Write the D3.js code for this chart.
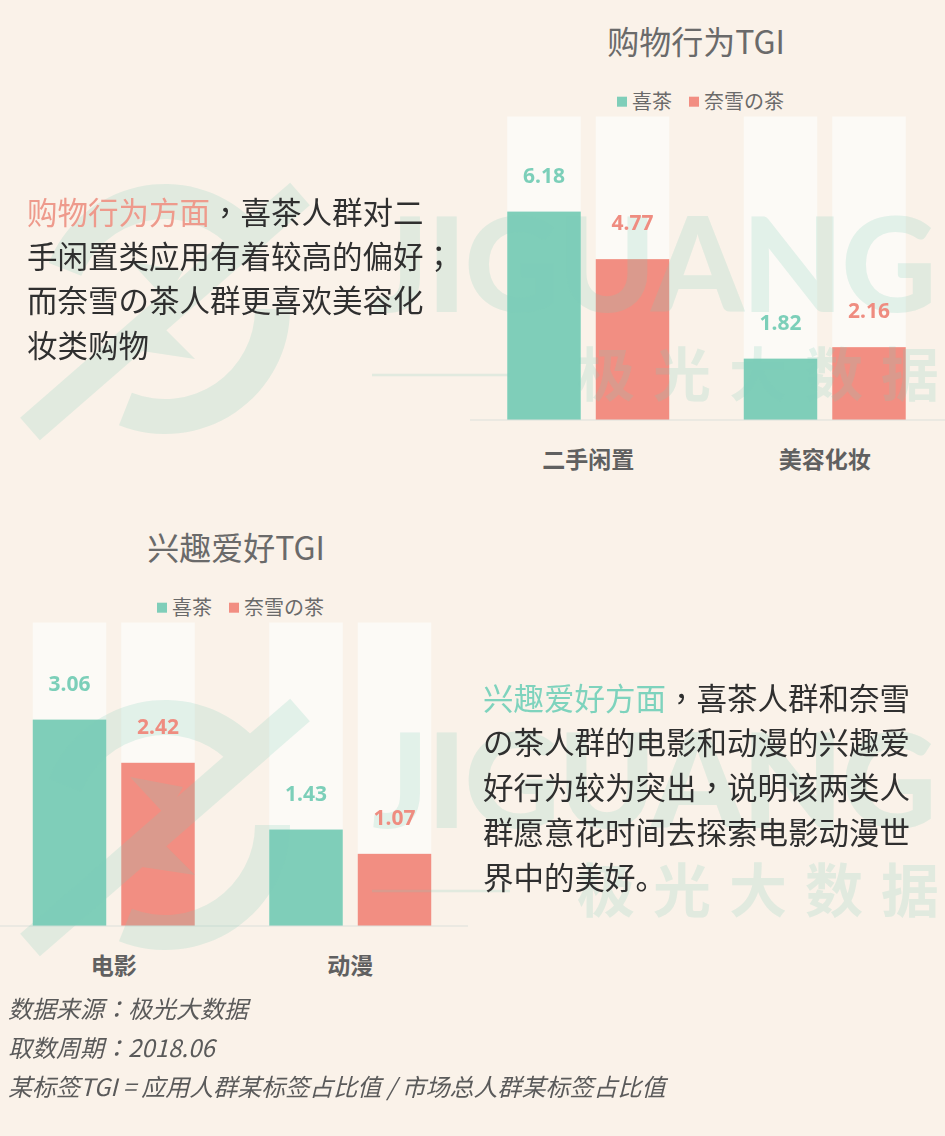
<!DOCTYPE html>
<html><head><meta charset="utf-8">
<script src="https://cdn.jsdelivr.net/npm/d3@7"></script>
<style>body{margin:0;background:#faf2e9;} svg{display:block}</style>
</head><body><svg id="c" width="945" height="1136"></svg>
<script>
// ---------- data ----------
const series = ["喜茶", "奈雪の茶"];
const shopTitle = "购物行为TGI";
const shopCategories = ["二手闲置", "美容化妆"];
const shopXicha = [6.18, 1.82];
const shopNayuki = [4.77, 2.16];
const shopMax = 9;
const hobbyTitle = "兴趣爱好TGI";
const hobbyCategories = ["电影", "动漫"];
const hobbyXicha = [3.06, 1.43];
const hobbyNayuki = [2.42, 1.07];
const hobbyMax = 4.5;
const note1Lines = [
  [["购物行为方面", 1], ["，喜茶人群对二", 0]],
  [["手闲置类应用有着较高的偏好；", 0]],
  [["而奈雪の茶人群更喜欢美容化", 0]],
  [["妆类购物", 0]]
];
const note2Lines = [
  [["兴趣爱好方面", 1], ["，喜茶人群和奈雪", 0]],
  [["の茶人群的电影和动漫的兴趣爱", 0]],
  [["好行为较为突出，说明该两类人", 0]],
  [["群愿意花时间去探索电影动漫世", 0]],
  [["界中的美好。", 0]]
];
const footerLines = [
  "数据来源：极光大数据",
  "取数周期：2018.06",
  "某标签TGI = 应用人群某标签占比值 / 市场总人群某标签占比值"
];

// ---------- style ----------
const C = {
  bg: "#faf2e9", track: "#fcfaf6", teal: "#7fceb9", red: "#f28e82",
  tealText: "#7ccfb9", redText: "#ef8c80", title: "#6a6a6a", cat: "#606060",
  axis: "#dcdfdc", dark: "#2f2f2f", foot: "#5a5a5a", wm: "#7fceb9"
};
const CJK = "'Noto Sans CJK SC', 'Noto Sans', sans-serif";
const CJK_TC = "'Noto Sans CJK TC', 'Noto Sans CJK SC', sans-serif";
const svg = d3.select("#c");
svg.append("rect").attr("width", 945).attr("height", 1136).attr("fill", C.bg);
const marks = svg.append("g");
const wmLayer = svg.append("g").attr("opacity", 0.2).attr("fill", C.wm);
const textLayer = svg.append("g");

// write a string into a text element, centering "，；：" like the reference (TC glyph forms)
function runs(textSel, str, fill) {
  const parts = str.split(/([，；：])/).filter(s => s.length);
  parts.forEach(p => {
    const ts = textSel.append("tspan").text(p);
    if (fill) ts.attr("fill", fill);
    if (/^[，；：]$/.test(p)) ts.attr("font-family", CJK_TC);
  });
}

function drawChart(cfg) {
  const rows = cfg.categories.map((c, i) => ({cat: c, vals: [cfg.a[i], cfg.b[i]]}));
  const x0 = d3.scaleBand().domain(cfg.categories).range([cfg.x0, cfg.x1])
    .paddingInner(0.315).paddingOuter(0.1575);
  const x1 = d3.scaleBand().domain(series).range([0, x0.bandwidth()]).paddingInner(0.1695);
  const y = d3.scaleLinear().domain([0, cfg.max]).range([cfg.base, cfg.base - 303.5]);
  const color = d3.scaleOrdinal().domain(series).range([C.teal, C.red]);
  const tcolor = d3.scaleOrdinal().domain(series).range([C.tealText, C.redText]);

  const g = marks.selectAll(null).data(rows).join("g")
    .attr("transform", d => `translate(${x0(d.cat)},0)`);
  const cells = d => d.vals.map((v, j) => ({s: series[j], v}));
  g.selectAll(".track").data(cells).join("rect")
    .attr("x", d => x1(d.s)).attr("width", x1.bandwidth())
    .attr("y", y(cfg.max)).attr("height", y(0) - y(cfg.max)).attr("fill", C.track);
  g.selectAll(".bar").data(cells).join("rect")
    .attr("x", d => x1(d.s)).attr("width", x1.bandwidth())
    .attr("y", d => y(d.v)).attr("height", d => y(0) - y(d.v)).attr("fill", d => color(d.s));

  const tg = textLayer.selectAll(null).data(rows).join("g")
    .attr("transform", d => `translate(${x0(d.cat)},0)`);
  tg.selectAll("text").data(cells).join("text")
    .attr("x", d => x1(d.s) + x1.bandwidth() / 2).attr("y", d => y(d.v) - 29)
    .attr("text-anchor", "middle").attr("font-family", "'Noto Sans', sans-serif")
    .attr("font-weight", 700).attr("font-size", 21).attr("fill", d => tcolor(d.s))
    .text(d => d.v.toFixed(2));

  const ax = marks.append("g").attr("transform", `translate(0,${cfg.base})`)
    .call(d3.axisBottom(x0).tickSize(0).tickSizeOuter(0));
  ax.select(".domain").attr("stroke", C.axis).attr("stroke-width", 1.2)
    .attr("d", `M${cfg.ax0},0H${cfg.ax1}`);
  ax.selectAll("text").attr("y", 48).attr("dy", null)
    .attr("font-family", CJK).attr("font-weight", 700).attr("font-size", 23).attr("fill", C.cat);

  textLayer.append("text").attr("x", cfg.titleX).attr("y", cfg.base - 366)
    .attr("text-anchor", "middle").attr("font-family", CJK).attr("font-size", 32)
    .attr("fill", C.title).text(cfg.title);

  const lg = textLayer.selectAll(null).data(series).join("g")
    .attr("transform", (d, i) => `translate(${cfg.legendX + i * 72},${cfg.base - 323.3})`);
  lg.append("rect").attr("width", 10).attr("height", 10).attr("fill", d => color(d));
  lg.append("text").attr("x", 15).attr("y", 12.7).attr("font-family", CJK)
    .attr("font-size", 20).attr("fill", C.title).text(d => d);
}

drawChart({categories: shopCategories, a: shopXicha, b: shopNayuki, max: shopMax, title: shopTitle,
  x0: 470, x1: 943, base: 420, ax0: 470, ax1: 945, titleX: 696, legendX: 617});
drawChart({categories: hobbyCategories, a: hobbyXicha, b: hobbyNayuki, max: hobbyMax, title: hobbyTitle,
  x0: -4.5, x1: 468.5, base: 926, ax0: 0, ax1: 468, titleX: 236, legendX: 157});

// ---------- watermark ----------
function watermark(dy) {
  const w = wmLayer.append("g").attr("transform", `translate(0,${dy})`);
  const arc = d3.arc();
  w.append("path").attr("transform", "translate(165,825)")
    .attr("d", arc({innerRadius: 90, outerRadius: 125, startAngle: -0.38 * Math.PI, endAngle: 0.24 * Math.PI}));
  w.append("path").attr("transform", "translate(165,825)")
    .attr("d", arc({innerRadius: 90, outerRadius: 125, startAngle: 0.5 * Math.PI, endAngle: 1.12 * Math.PI}));
  w.append("line").attr("x1", 30).attr("y1", 945).attr("x2", 300).attr("y2", 710)
    .attr("stroke", C.wm).attr("stroke-width", 30);
  w.append("path").attr("d", "M130,777L183,787L155,835L195,875L142,867L170,820Z");
  w.append("text").attr("x", 372).attr("y", 828).attr("font-family", "Lato, sans-serif")
    .attr("font-weight", 900).attr("font-size", 132).attr("textLength", 565)
    .attr("lengthAdjust", "spacing").text("JIGUANG");
  w.append("text").attr("x", 577).attr("y", 911.5).attr("font-family", CJK)
    .attr("font-weight", 700).attr("font-size", 58).attr("textLength", 362)
    .attr("lengthAdjust", "spacing").text("极光大数据");
  w.append("line").attr("x1", 372).attr("x2", 510).attr("y1", 891).attr("y2", 891)
    .attr("stroke", C.wm).attr("stroke-width", 2.5);
}
watermark(-516);
watermark(0);

// ---------- text blocks ----------
function block(lines, x, y0, lh, accent) {
  lines.forEach((segs, i) => {
    const t = textLayer.append("text").attr("x", x).attr("y", y0 + i * lh)
      .attr("font-family", CJK).attr("font-size", 30.5);
    segs.forEach(s => runs(t, s[0], s[1] ? accent : C.dark));
  });
}
block(note1Lines, 27, 223.5, 44.4, "#ee9a8c");
block(note2Lines, 483, 709.5, 44.75, "#7ed3bd");

footerLines.forEach((s, i) => {
  const t = textLayer.append("text").attr("x", 8).attr("y", 1018 + i * 39)
    .attr("font-family", CJK).attr("font-style", "italic").attr("font-size", 24)
    .attr("fill", C.foot);
  runs(t, s, null);
});
</script></body></html>
